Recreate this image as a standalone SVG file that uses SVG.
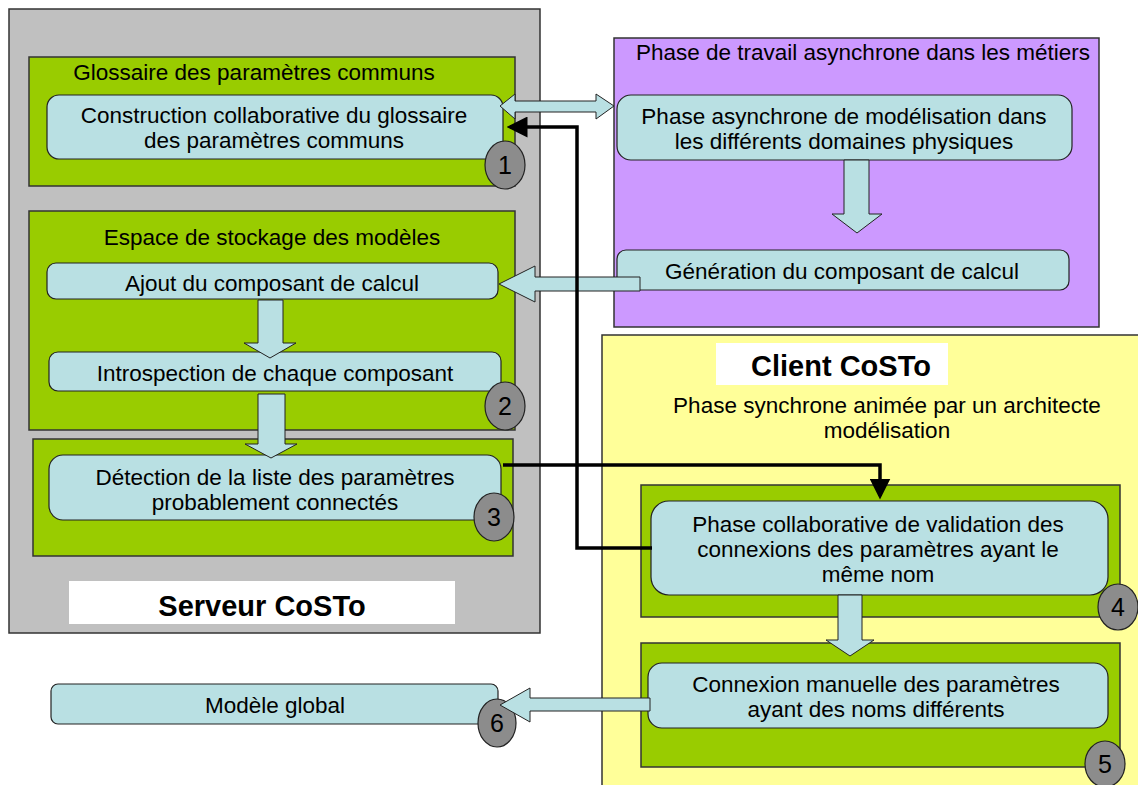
<svg xmlns="http://www.w3.org/2000/svg" width="1138" height="785" viewBox="0 0 1138 785">
<style>
text{font-family:"Liberation Sans",Arial,sans-serif;font-size:22.5px;fill:#000;text-anchor:middle}
.b{font-weight:bold;font-size:29px}
.l{text-anchor:start}
.n{font-size:25px}
.grey{fill:#c0c0c0;stroke:#333;stroke-width:1.5}
.green{fill:#99cc00;stroke:#333;stroke-width:1.5}
.box{fill:#b9e0e3;stroke:#222;stroke-width:1.2}
.white{fill:#fff;stroke:none}
.num{fill:#8c8c8c;stroke:#222;stroke-width:1.2}
.blk{fill:none;stroke:#000;stroke-width:3.5}
.barrow{fill:#b9e0e3;stroke:#222;stroke-width:1}
</style>
<defs>
<marker id="ah" markerWidth="6" markerHeight="6" refX="5" refY="3" orient="auto" markerUnits="strokeWidth"><path d="M0,0 L6,3 L0,6 z" fill="#000"/></marker>
</defs>
<rect width="1138" height="785" fill="#fff"/>

<g id="serveur">
<rect class="grey" x="9" y="9" width="531" height="624"/>
<rect class="white" x="69" y="581" width="386" height="43"/>
<text class="b" x="262" y="616">Serveur CoSTo</text>
</g>

<g id="phase-async">
<rect x="614" y="38" width="485" height="289" fill="#cc99ff" stroke="#333" stroke-width="1.5"/>
<text class="l" x="636" y="60">Phase de travail asynchrone dans les métiers</text>
</g>

<g id="client">
<rect x="602" y="335" width="545" height="460" fill="#ffff99" stroke="#333" stroke-width="1.5"/>
<rect class="white" x="716" y="343" width="232" height="42"/>
<text class="b" x="841" y="376">Client CoSTo</text>
<text x="887" y="413">Phase synchrone animée par un architecte</text>
<text x="887" y="438">modélisation</text>
</g>

<g id="glossaire">
<rect class="green" x="29" y="57" width="486" height="129"/>
<text x="254" y="80">Glossaire des paramètres communs</text>
</g>
<g id="construction">
<rect class="box" x="47" y="95" width="456" height="64" rx="12"/>
<text x="274" y="123">Construction collaborative du glossaire</text>
<text x="274" y="148">des paramètres communs</text>
</g>
<g id="n1"><ellipse class="num" cx="505" cy="165" rx="20" ry="24"/><text class="n" x="505" y="174">1</text></g>

<g id="stockage">
<rect class="green" x="29" y="211" width="486" height="219"/>
<text x="272" y="245">Espace de stockage des modèles</text>
</g>
<g id="ajout">
<rect class="box" x="47" y="263" width="451" height="36" rx="9"/>
<text x="272" y="291">Ajout du composant de calcul</text>
</g>
<g id="introspection">
<rect class="box" x="49" y="352" width="452" height="39" rx="9"/>
<text x="275" y="381">Introspection de chaque composant</text>
</g>
<g id="n2"><ellipse class="num" cx="505" cy="406" rx="20" ry="24"/><text class="n" x="505" y="415">2</text></g>

<g id="detection-zone">
<rect class="green" x="33" y="439" width="480" height="117"/>
</g>
<g id="detection">
<rect class="box" x="49" y="455" width="452" height="65" rx="14"/>
<text x="275" y="485">Détection de la liste des paramètres</text>
<text x="275" y="510">probablement connectés</text>
</g>
<g id="n3"><ellipse class="num" cx="494" cy="517" rx="20" ry="24"/><text class="n" x="494" y="526">3</text></g>

<g id="modelisation">
<rect class="box" x="617" y="95" width="455" height="65" rx="14"/>
<text x="844" y="124">Phase asynchrone de modélisation dans</text>
<text x="844" y="149">les différents domaines physiques</text>
</g>
<g id="generation">
<rect class="box" x="617" y="250" width="452" height="40" rx="9"/>
<text x="842" y="279">Génération du composant de calcul</text>
</g>

<g id="validation-zone">
<rect class="green" x="641" y="485" width="479" height="132"/>
</g>
<g id="validation">
<rect class="box" x="651" y="501" width="457" height="94" rx="18"/>
<text x="878" y="532">Phase collaborative de validation des</text>
<text x="878" y="557">connexions des paramètres ayant le</text>
<text x="878" y="582">même nom</text>
</g>
<g id="n4"><ellipse class="num" cx="1118" cy="607" rx="20" ry="23"/><text class="n" x="1118" y="616">4</text></g>

<g id="manuelle-zone">
<rect class="green" x="641" y="643" width="479" height="124"/>
</g>
<g id="manuelle">
<rect class="box" x="648" y="663" width="460" height="65" rx="14"/>
<text x="876" y="692">Connexion manuelle des paramètres</text>
<text x="876" y="717">ayant des noms différents</text>
</g>
<g id="n5"><ellipse class="num" cx="1105" cy="764" rx="20" ry="23"/><text class="n" x="1105" y="773">5</text></g>

<g id="global">
<rect class="box" x="51" y="684" width="447" height="40" rx="7"/>
<text x="275" y="713">Modèle global</text>
</g>
<g id="n6"><ellipse class="num" cx="497" cy="723" rx="19" ry="24"/><text class="n" x="497" y="732">6</text></g>

<g id="connectors">
<path class="barrow" d="M258,300 H283 V343 H296 L270,358 L244,343 H258 Z"/>
<path class="barrow" d="M258,394 H285 V444 H297 L271,458 L245,444 H258 Z"/>
<path class="barrow" d="M844,160 H869 V214 H882 L857,233 L832,214 H844 Z"/>
<path class="barrow" d="M838,595 H862 V640 H874 L850,656 L826,640 H838 Z"/>
<path class="barrow" d="M640,277 H535 V266 L499,284 L535,302 V291 H640 Z"/>
<path class="barrow" d="M650,698 H530 V688 L500,705 L530,722 V711 H650 Z"/>
<path class="barrow" d="M500,106 L515,94 V101 H596 V94 L614,106 L596,119 V112 H515 V119 Z"/>
<polyline class="blk" points="652,548 577,548 577,127 510,127" marker-end="url(#ah)" stroke-width="4"/>
<polyline class="blk" points="503,465 880,465 880,496" marker-end="url(#ah)" stroke-width="3"/>
</g>
</svg>
